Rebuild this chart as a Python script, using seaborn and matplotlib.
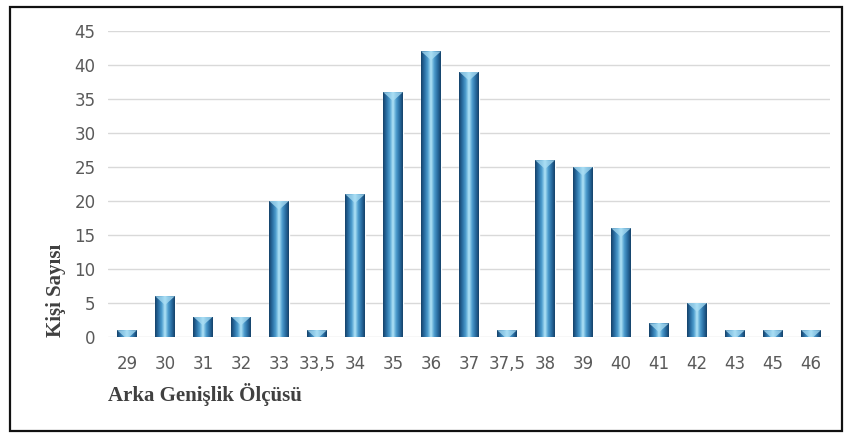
import matplotlib.pyplot as plt
import matplotlib.patches as mpatches
import numpy as np
import pandas as pd
import seaborn as sns
from matplotlib.colors import LinearSegmentedColormap

# --- Data ---
sizes = ["29", "30", "31", "32", "33", "33,5", "34", "35", "36", "37",
         "37,5", "38", "39", "40", "41", "42", "43", "45", "46"]
counts = [1, 6, 3, 3, 20, 1, 21, 36, 42, 39, 1, 26, 25, 16, 2, 5, 1, 1, 1]
y_ticks = [0, 5, 10, 15, 20, 25, 30, 35, 40, 45]

df = pd.DataFrame({"size": sizes, "count": counts})

sns.set_theme(style="white")

fig = plt.figure(figsize=(8.47, 4.34), dpi=100)
ax = fig.add_axes([0.1275, 0.2235, 0.8525, 0.7051])

sns.barplot(data=df, x="size", y="count", order=sizes, color="#2e75b6",
            width=0.52, ax=ax, zorder=2)

# cylinder-like shading on each bar, plus a light bevel at the top
cyl = LinearSegmentedColormap.from_list(
    "cyl", ["#15426a", "#2a6ea3", "#4c9ccd", "#b4e6f8", "#4c9ccd", "#2a6ea3", "#15426a"])
grad = np.linspace(0, 1, 64).reshape(1, -1)
for patch in ax.patches:
    x0, y0 = patch.get_x(), patch.get_y()
    w, h = patch.get_width(), patch.get_height()
    im = ax.imshow(grad, extent=[x0, x0 + w, y0, y0 + h], aspect="auto",
                   cmap=cyl, zorder=3, interpolation="bilinear")
    im.set_clip_path(patch)
    cap = mpatches.Polygon([(x0, y0 + h), (x0 + w, y0 + h), (x0 + w / 2, y0 + h - 1.3)],
                           closed=True, facecolor="#a9ddf3", alpha=0.75,
                           edgecolor="none", zorder=4)
    ax.add_patch(cap)
    cap.set_clip_path(patch)

ax.set_xlim(-0.5, 18.5)
ax.set_ylim(0, 45)
ax.set_yticks(y_ticks)
ax.yaxis.grid(True, color="#d9d9d9", linewidth=1)
ax.set_axisbelow(True)
for s in ax.spines.values():
    s.set_visible(False)
ax.tick_params(axis="both", length=0, labelsize=12, labelcolor="#5a5a5a")
ax.tick_params(axis="x", pad=13)
ax.tick_params(axis="y", pad=9)

ax.set_xlabel("Arka Genişlik Ölçüsü", loc="left", family="Liberation Serif",
              fontweight="bold", fontsize=15, color="#404040", labelpad=7)
ax.set_ylabel("Kişi Sayısı", loc="bottom", family="Liberation Serif",
              fontweight="bold", fontsize=15, color="#404040", labelpad=6)

# outer frame
fig.patches.append(mpatches.Rectangle((10 / 847, 3 / 434), 832 / 847, 424 / 434,
                                      transform=fig.transFigure, fill=False,
                                      edgecolor="#111111", linewidth=1.6))

fig.savefig("out.png", dpi=100)
